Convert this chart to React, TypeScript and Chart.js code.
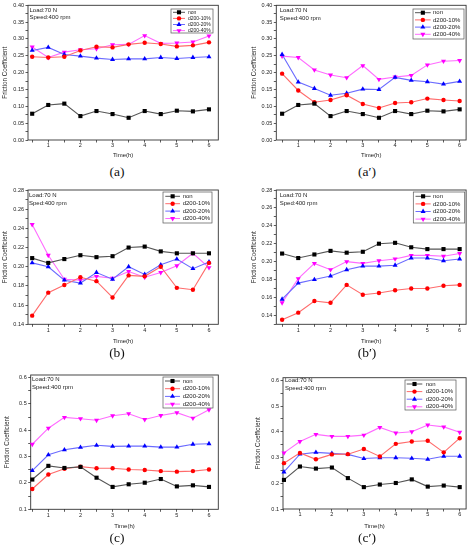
import React, { useEffect, useRef } from 'react';
import { Chart, registerables } from 'chart.js';

Chart.register(...registerables);

// time axis (h)
const hours = [0.5, 1, 1.5, 2, 2.5, 3, 3.5, 4, 4.5, 5, 5.5, 6];
const xTicks = [1, 2, 3, 4, 5, 6];
const seriesNames = ['non', 'd200-10%', 'd200-20%', 'd200-40%'];

// y tick labels
const yTicksA = [0, 0.05, 0.1, 0.15, 0.2, 0.25, 0.3, 0.35, 0.4];
const yTicksB = [0.14, 0.16, 0.18, 0.2, 0.22, 0.24, 0.26, 0.28];
const yTicksC = [0.1, 0.2, 0.3, 0.4, 0.5, 0.6];

// (a) / (a')
const nonA = [0.078, 0.104, 0.108, 0.071, 0.086, 0.077, 0.066, 0.086, 0.077, 0.087, 0.085, 0.091];
const d10A = [0.247, 0.245, 0.247, 0.266, 0.277, 0.275, 0.284, 0.289, 0.285, 0.278, 0.281, 0.29];
const d20A = [0.266, 0.275, 0.254, 0.249, 0.243, 0.239, 0.241, 0.241, 0.245, 0.242, 0.245, 0.247];
const d40A = [0.276, 0.245, 0.261, 0.268, 0.271, 0.283, 0.284, 0.31, 0.287, 0.288, 0.291, 0.309];
const d10A2 = [0.197, 0.147, 0.112, 0.119, 0.133, 0.107, 0.095, 0.11, 0.112, 0.123, 0.119, 0.116];
const d20A2 = [0.254, 0.172, 0.153, 0.133, 0.139, 0.151, 0.15, 0.186, 0.177, 0.173, 0.166, 0.174];
const d40A2 = [0.249, 0.245, 0.208, 0.193, 0.185, 0.221, 0.18, 0.187, 0.192, 0.223, 0.234, 0.236];

// (b) / (b')
const nonB = [0.209, 0.204, 0.208, 0.212, 0.21, 0.211, 0.22, 0.221, 0.216, 0.214, 0.214, 0.214];
const d10B = [0.149, 0.173, 0.181, 0.189, 0.185, 0.168, 0.191, 0.19, 0.2, 0.178, 0.176, 0.204];
const d20B = [0.204, 0.2, 0.186, 0.183, 0.194, 0.187, 0.2, 0.192, 0.202, 0.208, 0.198, 0.205];
const d40B = [0.244, 0.212, 0.187, 0.186, 0.19, 0.188, 0.195, 0.189, 0.194, 0.201, 0.214, 0.199];
const d10B2 = [0.135, 0.143, 0.156, 0.154, 0.174, 0.163, 0.165, 0.168, 0.17, 0.17, 0.173, 0.174];
const d20B2 = [0.158, 0.176, 0.18, 0.184, 0.191, 0.195, 0.195, 0.196, 0.204, 0.204, 0.201, 0.203];
const d40B2 = [0.154, 0.181, 0.198, 0.191, 0.2, 0.198, 0.201, 0.203, 0.207, 0.207, 0.206, 0.209];

// (c) / (c')
const nonC = [0.213, 0.265, 0.257, 0.261, 0.22, 0.185, 0.195, 0.201, 0.215, 0.187, 0.191, 0.185];
const d10C = [0.177, 0.232, 0.254, 0.262, 0.256, 0.256, 0.251, 0.249, 0.245, 0.243, 0.245, 0.251];
const d20C = [0.247, 0.307, 0.326, 0.335, 0.343, 0.339, 0.34, 0.34, 0.336, 0.336, 0.347, 0.349];
const d40C = [0.347, 0.408, 0.449, 0.444, 0.438, 0.455, 0.463, 0.441, 0.456, 0.467, 0.446, 0.478];
const d10C2 = [0.278, 0.318, 0.293, 0.312, 0.313, 0.333, 0.304, 0.353, 0.362, 0.365, 0.32, 0.375];
const d20C2 = [0.244, 0.313, 0.32, 0.316, 0.312, 0.296, 0.299, 0.299, 0.297, 0.293, 0.305, 0.305];
const d40C2 = [0.318, 0.362, 0.39, 0.382, 0.382, 0.387, 0.417, 0.395, 0.4, 0.426, 0.419, 0.398];

const FONT = "'Liberation Sans', Arial, sans-serif";

const seriesStyle = [
  { point: 'rect', rotation: 0, radius: 2.9, fill: '#000000', line: '#555555' },
  { point: 'circle', rotation: 0, radius: 2.2, fill: '#ff0000', line: '#ff6b6b' },
  { point: 'triangle', rotation: 0, radius: 2.9, fill: '#0000ff', line: '#6b6bff' },
  { point: 'triangle', rotation: 180, radius: 2.9, fill: '#ff00ff', line: '#ff6bff' },
];

interface LegendSpec {
  x: number; y: number; w: number; h: number;
  row0: number; gap: number; lineX: number; lineLen: number; textX: number; font: number;
}

interface PanelSpec {
  caption: string;
  captionAt: [number, number];
  box: [number, number, number, number]; // canvas left, top, width, height
  plot: [number, number, number, number]; // left, top, right, bottom
  xRange: [number, number];
  yRange: [number, number];
  yTicks: number[];
  yDigits: number;
  titleX: number;
  timeY: number;
  notes: string[];
  noteAt: [number, number];
  noteGap: number;
  legend: LegendSpec;
  series: number[][];
}

const panels: PanelSpec[] = [
  {
    caption: '(a)', captionAt: [117, 172],
    box: [0, 0, 234, 162], plot: [28, 5.3, 218.3, 140],
    xRange: [0.37, 6.29], yRange: [0, 0.4], yTicks: yTicksA, yDigits: 2,
    titleX: 5.3, timeY: 155,
    notes: ['Load:70 N', 'Speed:400 rpm'], noteAt: [29.5, 10.3], noteGap: 7.4,
    legend: { x: 171, y: 9, w: 42, h: 24, row0: 12.3, gap: 6.1, lineX: 173, lineLen: 12, textX: 188, font: 5 },
    series: [nonA, d10A, d20A, d40A],
  },
  {
    caption: '(a\u2032)', captionAt: [367, 172],
    box: [234, 0, 235, 162], plot: [276.3, 5.3, 466.3, 140],
    xRange: [0.32, 6.2], yRange: [0, 0.4], yTicks: yTicksA, yDigits: 2,
    titleX: 254.7, timeY: 155,
    notes: ['Load:70 N', 'Speed:400 rpm'], noteAt: [279.7, 10], noteGap: 8.3,
    legend: { x: 413, y: 9, w: 51, h: 30, row0: 12.7, gap: 7.2, lineX: 415, lineLen: 15.7, textX: 433, font: 6 },
    series: [nonA, d10A2, d20A2, d40A2],
  },
  {
    caption: '(b)', captionAt: [117, 353],
    box: [0, 182, 234, 166], plot: [28, 190, 218.3, 324.3],
    xRange: [0.37, 6.29], yRange: [0.14, 0.28], yTicks: yTicksB, yDigits: 2,
    titleX: 5.3, timeY: 341,
    notes: ['Load:70 N', 'Sped:400 rpm'], noteAt: [29, 195], noteGap: 8.3,
    legend: { x: 163, y: 192, w: 49, h: 31, row0: 196.3, gap: 7.4, lineX: 165.3, lineLen: 14.7, textX: 182.7, font: 6 },
    series: [nonB, d10B, d20B, d40B],
  },
  {
    caption: '(b\u2032)', captionAt: [367, 353],
    box: [234, 182, 235, 166], plot: [276.3, 190, 466.3, 324.3],
    xRange: [0.32, 6.2], yRange: [0.13, 0.28], yTicks: yTicksB, yDigits: 2,
    titleX: 254.7, timeY: 341,
    notes: ['Load:70 N', 'Sped:400 rpm'], noteAt: [279.7, 195], noteGap: 8.3,
    legend: { x: 413.3, y: 192, w: 51.4, h: 31, row0: 196.3, gap: 7.6, lineX: 415.5, lineLen: 15.2, textX: 433, font: 6 },
    series: [nonB, d10B2, d20B2, d40B2],
  },
  {
    caption: '(c)', captionAt: [117, 538],
    box: [0, 367, 234, 166], plot: [30.7, 375, 218.3, 509.3],
    xRange: [0.45, 6.29], yRange: [0.1, 0.61], yTicks: yTicksC, yDigits: 1,
    titleX: 7.3, timeY: 526,
    notes: ['Load:70 N', 'Speed:400 rpm'], noteAt: [32, 379.3], noteGap: 8.4,
    legend: { x: 163, y: 377, w: 50, h: 31, row0: 381, gap: 7.7, lineX: 165, lineLen: 15, textX: 182.7, font: 6 },
    series: [nonC, d10C, d20C, d40C],
  },
  {
    caption: '(c\u2032)', captionAt: [367, 538],
    box: [234, 367, 235, 166], plot: [283, 377.7, 466.3, 509],
    xRange: [0.47, 6.2], yRange: [0.1, 0.61], yTicks: yTicksC, yDigits: 1,
    titleX: 258, timeY: 526,
    notes: ['Load:70 N', 'Speed:400 rpm'], noteAt: [285, 380], noteGap: 8.3,
    legend: { x: 405, y: 380, w: 51, h: 30, row0: 384, gap: 7.6, lineX: 406.7, lineLen: 15.6, textX: 425.7, font: 6 },
    series: [nonC, d10C2, d20C2, d40C2],
  },
];

function marker(ctx: CanvasRenderingContext2D, kind: number, x: number, y: number) {
  const st = seriesStyle[kind];
  const r = st.radius;
  ctx.fillStyle = st.fill;
  ctx.beginPath();
  if (st.point === 'rect') {
    const s = Math.SQRT1_2 * r;
    ctx.rect(x - s, y - s, 2 * s, 2 * s);
  } else if (st.point === 'circle') {
    ctx.arc(x, y, r, 0, Math.PI * 2);
  } else {
    const d = st.rotation ? -1 : 1;
    ctx.moveTo(x, y - d * r);
    ctx.lineTo(x + r * 0.866, y + d * r * 0.5);
    ctx.lineTo(x - r * 0.866, y + d * r * 0.5);
    ctx.closePath();
  }
  ctx.fill();
}

const Panel: React.FC<{ spec: PanelSpec }> = ({ spec }) => {
  const canvasRef = useRef<HTMLCanvasElement | null>(null);

  useEffect(() => {
    if (!canvasRef.current) return;
    const [bx, by, bw, bh] = spec.box;
    const [pl, pt, pr, pb] = spec.plot;
    const titleSize = 6.3;
    const timeSize = 6;

    const minorY: number[] = [];
    const stepY = spec.yTicks[1] - spec.yTicks[0];
    spec.yTicks.forEach((v) => {
      [v - stepY / 2, v + stepY / 2].forEach((m) => {
        if (m >= spec.yRange[0] - 1e-9 && m <= spec.yRange[1] + 1e-9 && !minorY.some((q) => Math.abs(q - m) < 1e-9)) {
          minorY.push(m);
        }
      });
    });
    const yAll = [...spec.yTicks, ...minorY].sort((a, b) => a - b);
    const xAll = hours.filter((h) => h >= spec.xRange[0] && h <= spec.xRange[1]);

    const framePlugin = {
      id: 'frame',
      beforeDatasetsDraw(chart: any) {
        const { ctx, chartArea: a } = chart;
        ctx.save();
        ctx.strokeStyle = '#333333';
        ctx.lineWidth = 0.9;
        ctx.strokeRect(a.left, a.top, a.right - a.left, a.bottom - a.top);
        ctx.restore();
      },
    };

    const notesPlugin = {
      id: 'notes',
      afterDraw(chart: any) {
        const ctx: CanvasRenderingContext2D = chart.ctx;
        const lg = spec.legend;
        ctx.save();
        // condition text
        ctx.fillStyle = '#222222';
        ctx.font = `6px ${FONT}`;
        ctx.textBaseline = 'middle';
        ctx.textAlign = 'left';
        spec.notes.forEach((t, i) => {
          ctx.fillText(t, spec.noteAt[0] - bx, spec.noteAt[1] - by + i * spec.noteGap);
        });
        // legend box
        ctx.fillStyle = '#ffffff';
        ctx.fillRect(lg.x - bx, lg.y - by, lg.w, lg.h);
        ctx.strokeStyle = '#555555';
        ctx.lineWidth = 0.7;
        ctx.strokeRect(lg.x - bx, lg.y - by, lg.w, lg.h);
        ctx.font = `${lg.font}px ${FONT}`;
        seriesNames.forEach((name, i) => {
          const y = lg.row0 - by + i * lg.gap;
          const x0 = lg.lineX - bx;
          ctx.strokeStyle = seriesStyle[i].line;
          ctx.lineWidth = 1;
          ctx.beginPath();
          ctx.moveTo(x0, y);
          ctx.lineTo(x0 + lg.lineLen, y);
          ctx.stroke();
          marker(ctx, i, x0 + lg.lineLen / 2, y);
          ctx.fillStyle = '#222222';
          ctx.fillText(name, lg.textX - bx, y);
        });
        ctx.restore();
      },
    };

    const chart = new Chart(canvasRef.current, {
      type: 'line',
      data: {
        datasets: spec.series.map((vals, i) => ({
          label: seriesNames[i],
          data: hours.map((h, j) => ({ x: h, y: vals[j] })),
          borderColor: seriesStyle[i].line,
          borderWidth: 1.1,
          backgroundColor: seriesStyle[i].fill,
          pointBackgroundColor: seriesStyle[i].fill,
          pointBorderColor: seriesStyle[i].fill,
          pointBorderWidth: 0,
          pointStyle: seriesStyle[i].point as any,
          pointRotation: seriesStyle[i].rotation,
          pointRadius: seriesStyle[i].radius,
          pointHoverRadius: seriesStyle[i].radius,
          tension: 0,
          fill: false,
          clip: false as any,
        })),
      },
      options: {
        responsive: false,
        animation: false,
        devicePixelRatio: window.devicePixelRatio || 1,
        layout: {
          padding: { left: 0, top: pt - by, right: bx + bw - pr, bottom: 0 },
        },
        plugins: {
          legend: { display: false },
          tooltip: { enabled: false },
        },
        scales: {
          x: {
            type: 'linear',
            min: spec.xRange[0],
            max: spec.xRange[1],
            afterBuildTicks: (s: any) => {
              s.ticks = xAll.map((value) => ({ value }));
            },
            afterFit: (s: any) => {
              s.height = by + bh - pb;
            },
            ticks: {
              autoSkip: false,
              maxRotation: 0,
              padding: 0,
              color: '#222222',
              font: { family: FONT, size: 5.5 },
              callback: (v: any) => (xTicks.includes(Number(v)) ? String(v) : ''),
            },
            grid: { drawOnChartArea: false, drawTicks: true, tickLength: 2.5, color: '#333333', lineWidth: 0.8 },
            border: { display: false },
            title: {
              display: true,
              text: 'Time(h)',
              color: '#222222',
              font: { family: FONT, size: timeSize },
              padding: { top: 0, bottom: by + bh - spec.timeY - timeSize * 0.6 },
            },
          },
          y: {
            type: 'linear',
            min: spec.yRange[0],
            max: spec.yRange[1],
            afterBuildTicks: (s: any) => {
              s.ticks = yAll.map((value) => ({ value }));
            },
            afterFit: (s: any) => {
              s.width = pl - bx;
            },
            ticks: {
              autoSkip: false,
              padding: 1.5,
              color: '#222222',
              font: { family: FONT, size: 5.5 },
              callback: (v: any) => {
                const n = Number(v);
                return spec.yTicks.some((t) => Math.abs(t - n) < 1e-9) ? n.toFixed(spec.yDigits) : '';
              },
            },
            grid: { drawOnChartArea: false, drawTicks: true, tickLength: 2.5, color: '#333333', lineWidth: 0.8 },
            border: { display: false },
            title: {
              display: true,
              text: 'Friction Coefficient',
              color: '#222222',
              font: { family: FONT, size: titleSize },
              padding: { top: spec.titleX - bx - titleSize * 0.6, bottom: 0 },
            },
          },
        },
      },
      plugins: [framePlugin, notesPlugin],
    });

    return () => {
      chart.destroy();
    };
  }, [spec]);

  const [bx, by, bw, bh] = spec.box;
  return (
    <>
      <canvas
        ref={canvasRef}
        width={bw}
        height={bh}
        style={{ position: 'absolute', left: bx, top: by, width: bw, height: bh }}
      />
      <div
        style={{
          position: 'absolute',
          left: spec.captionAt[0] - 30,
          top: spec.captionAt[1] - 8,
          width: 60,
          textAlign: 'center',
          fontFamily: "'Liberation Serif', 'Times New Roman', serif",
          fontSize: 13.5,
          lineHeight: '16px',
          color: '#111111',
        }}
      >
        {spec.caption}
      </div>
    </>
  );
};

const App: React.FC = () => (
  <div style={{ position: 'absolute', left: 0, top: 0, width: 469, height: 550, background: '#ffffff', overflow: 'hidden' }}>
    {panels.map((p) => (
      <Panel key={p.caption} spec={p} />
    ))}
  </div>
);

export default App;
